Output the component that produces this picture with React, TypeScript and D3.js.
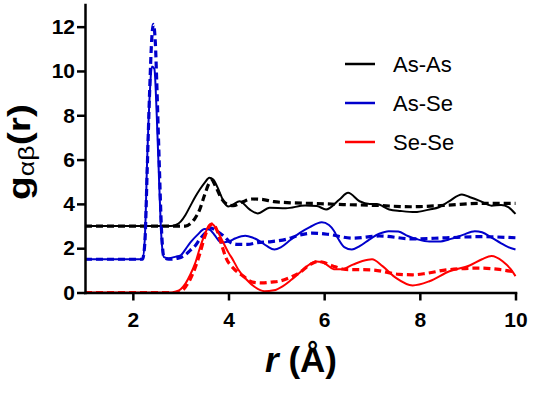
import * as d3 from "d3"
import { useEffect, useRef } from "react"

type Pt = [number, number]

// partial pair distribution functions, [r (Å), g(r)]
// As-As and As-Se are offset by +3 and +1.5
const asAsSolid: Pt[] = [
  [1.0, 3.0], [2.0, 3.0], [2.8, 3.0], [2.9, 3.05], [3.0, 3.2], [3.1, 3.5], [3.2, 3.9], [3.3, 4.3],
  [3.4, 4.65], [3.5, 4.95], [3.6, 5.18], [3.68, 5.1], [3.8, 4.6], [3.9, 4.1], [4.0, 3.88], [4.1, 3.98],
  [4.23, 4.12], [4.44, 3.75], [4.61, 3.57], [4.86, 3.82], [5.2, 3.8], [5.6, 3.93], [5.85, 3.9], [6.04, 3.75],
  [6.32, 4.2], [6.5, 4.5], [6.74, 4.12], [6.95, 4.0], [7.1, 4.0], [7.36, 3.75], [7.6, 3.68], [7.9, 3.63],
  [8.2, 3.75], [8.4, 3.85], [8.6, 4.1], [8.88, 4.42], [9.05, 4.3], [9.24, 4.15], [9.5, 3.92], [9.7, 3.95],
  [9.85, 3.85], [10.0, 3.55],
]
const asAsDash: Pt[] = [
  [1.0, 3.0], [3.1, 3.0], [3.2, 3.1], [3.3, 3.35], [3.4, 3.75], [3.5, 4.4], [3.6, 4.95], [3.65, 5.05],
  [3.75, 4.7], [3.85, 4.25], [4.0, 3.95], [4.1, 3.92], [4.3, 4.1], [4.5, 4.22], [4.7, 4.2], [4.95, 4.1],
  [5.3, 4.05], [5.8, 4.02], [6.4, 3.97], [7.1, 3.93], [7.8, 3.87], [8.5, 3.93], [9.2, 4.02], [10.0, 4.02],
]
const asSeSolid: Pt[] = [
  [1.0, 1.5], [2.2, 1.5], [2.25, 2.4], [2.3, 6.0], [2.35, 8.8], [2.4, 10.2], [2.45, 10.1], [2.5, 8.0],
  [2.55, 5.0], [2.6, 2.4], [2.65, 1.6], [2.75, 1.55], [2.9, 1.62], [3.0, 1.68], [3.1, 1.95], [3.2, 2.25],
  [3.35, 2.6], [3.5, 2.87], [3.6, 2.84], [3.7, 2.62], [3.85, 2.25], [4.0, 2.3], [4.15, 2.45], [4.35, 2.56],
  [4.5, 2.48], [4.65, 2.32], [4.8, 2.1], [4.96, 1.94], [5.1, 2.05], [5.3, 2.38], [5.5, 2.7], [5.7, 2.95],
  [5.95, 3.17], [6.1, 3.05], [6.2, 2.8], [6.3, 2.4], [6.42, 2.05], [6.58, 1.94], [6.75, 2.1], [6.95, 2.4],
  [7.15, 2.65], [7.35, 2.77], [7.55, 2.75], [7.75, 2.55], [7.95, 2.4], [8.2, 2.3], [8.4, 2.3], [8.65, 2.42],
  [8.9, 2.6], [9.15, 2.77], [9.3, 2.72], [9.5, 2.48], [9.7, 2.22], [9.85, 2.05], [10.0, 1.94],
]
const asSeDash: Pt[] = [
  [1.0, 1.5], [2.2, 1.5], [2.25, 2.2], [2.3, 5.5], [2.35, 9.0], [2.4, 11.6], [2.43, 12.1], [2.47, 11.3],
  [2.5, 9.5], [2.55, 6.0], [2.6, 2.8], [2.65, 1.6], [2.75, 1.5], [2.95, 1.55], [3.1, 1.7], [3.2, 1.9],
  [3.3, 2.1], [3.4, 2.4], [3.5, 2.65], [3.62, 2.92], [3.75, 2.78], [3.9, 2.55], [4.05, 2.25], [4.2, 2.17],
  [4.4, 2.17], [4.6, 2.25], [4.9, 2.3], [5.2, 2.4], [5.5, 2.6], [5.75, 2.68], [6.1, 2.62], [6.6, 2.45],
  [7.15, 2.55], [7.85, 2.42], [8.55, 2.47], [9.24, 2.52], [10.0, 2.47],
]
const seSeSolid: Pt[] = [
  [1.0, 0], [2.8, 0], [2.9, 0.05], [3.0, 0.15], [3.1, 0.4], [3.2, 0.8], [3.3, 1.3], [3.4, 2.0],
  [3.5, 2.6], [3.6, 3.05], [3.65, 3.1], [3.75, 2.85], [3.88, 2.3], [4.0, 1.8], [4.1, 1.45], [4.2, 1.05],
  [4.37, 0.6], [4.55, 0.25], [4.75, 0.06], [4.95, 0.1], [5.13, 0.28], [5.3, 0.55], [5.48, 0.88], [5.65, 1.2],
  [5.83, 1.4], [5.95, 1.38], [6.05, 1.26], [6.2, 1.05], [6.35, 1.05], [6.6, 1.26], [6.8, 1.42], [7.0, 1.5],
  [7.22, 1.19], [7.5, 0.66], [7.85, 0.32], [8.2, 0.51], [8.62, 0.96], [9.04, 1.22], [9.3, 1.5], [9.5, 1.65],
  [9.73, 1.41], [9.9, 1.05], [10.0, 0.74],
]
const seSeDash: Pt[] = [
  [1.0, 0], [2.9, 0], [3.0, 0.05], [3.1, 0.25], [3.2, 0.6], [3.3, 1.1], [3.4, 1.75], [3.5, 2.5],
  [3.6, 3.0], [3.67, 3.1], [3.75, 2.85], [3.85, 2.2], [3.95, 1.55], [4.1, 1.1], [4.3, 0.75], [4.5, 0.47],
  [4.7, 0.43], [4.9, 0.47], [5.06, 0.51], [5.25, 0.65], [5.48, 0.89], [5.7, 1.25], [5.87, 1.4], [6.0, 1.35],
  [6.18, 1.2], [6.45, 1.04], [7.0, 1.02], [7.57, 0.82], [7.85, 0.8], [8.13, 0.86], [8.55, 1.02], [9.24, 1.1],
  [9.66, 1.04], [10.0, 0.92],
]

const pairLabels = ["As-As", "As-Se", "Se-Se"]
const pairColors = ["#000000", "#0000cc", "#ff0000"]
const xTicks = [2, 4, 6, 8, 10]
const yTicks = [0, 2, 4, 6, 8, 10, 12]

const font = "'Liberation Sans', Arial, sans-serif"

function App() {
  const ref = useRef<SVGSVGElement>(null)

  useEffect(() => {
    const svg = d3.select(ref.current)
    svg.selectAll("*").remove()

    const x = d3.scaleLinear().domain([1, 10]).range([85, 515.5])
    const y = d3.scaleLinear().domain([0, 13]).range([292.5, 4.5])

    const line = d3.line<Pt>()
      .x(d => x(d[0]))
      .y(d => y(d[1]))
      .curve(d3.curveMonotoneX)

    const series = [
      { data: asAsSolid, color: pairColors[0], dashed: false },
      { data: asAsDash, color: pairColors[0], dashed: true },
      { data: asSeSolid, color: pairColors[1], dashed: false },
      { data: asSeDash, color: pairColors[1], dashed: true },
      { data: seSeSolid, color: pairColors[2], dashed: false },
      { data: seSeDash, color: pairColors[2], dashed: true },
    ]

    svg.append("g")
      .selectAll("path")
      .data(series)
      .enter()
      .append("path")
        .attr("d", d => line(d.data))
        .attr("fill", "none")
        .attr("stroke", d => d.color)
        .attr("stroke-width", d => d.dashed ? 3.2 : 2)
        .attr("stroke-dasharray", d => d.dashed ? "7,4" : null)
        .attr("stroke-linejoin", "round")

    // axes
    const xAxis = d3.axisBottom(x)
      .tickValues(xTicks)
      .tickSize(8)
      .tickSizeOuter(0)
      .tickPadding(12)
      .tickFormat(d3.format("d"))
    const yAxis = d3.axisLeft(y)
      .tickValues(yTicks)
      .tickSize(8)
      .tickSizeOuter(0)
      .tickPadding(2)
      .tickFormat(d3.format("d"))

    const gx = svg.append("g").attr("transform", `translate(0,${y(0)})`).call(xAxis)
    const gy = svg.append("g").attr("transform", `translate(${x(1)},0)`).call(yAxis)

    for (const g of [gx, gy]) {
      g.attr("font-family", font).attr("font-size", 21).attr("font-weight", "bold")
      g.select(".domain").attr("stroke-width", 2.5).attr("stroke-linecap", "square")
      g.selectAll(".tick line").attr("stroke-width", 2.5)
    }

    // axis titles
    const xt = svg.append("text")
      .attr("x", 301)
      .attr("y", 372)
      .attr("text-anchor", "middle")
      .attr("font-family", font)
      .attr("font-weight", "bold")
      .attr("font-size", 35)
    xt.append("tspan").attr("font-style", "italic").text("r")
    xt.append("tspan").text(" (Å)")

    // y title is stretched a little along its length
    const yt = svg.append("text")
      .attr("transform", "translate(30,200) rotate(-90) scale(1.22,1)")
      .attr("font-family", font)
      .attr("font-weight", "bold")
      .attr("font-size", 32)
    yt.append("tspan").text("g")
    yt.append("tspan").attr("font-size", 22).attr("font-weight", "normal").attr("dy", 4).text("αβ")
    yt.append("tspan").attr("dy", -4).text("(r)")

    // legend
    const legend = svg.append("g")
    pairLabels.forEach((label, i) => {
      const ly = 64 + i * 39
      legend.append("line")
        .attr("x1", 345).attr("x2", 375)
        .attr("y1", ly).attr("y2", ly)
        .attr("stroke", pairColors[i])
        .attr("stroke-width", 2.5)
      legend.append("text")
        .attr("x", 393)
        .attr("y", ly + 8)
        .attr("font-family", font)
        .attr("font-size", 22)
        .text(label)
    })
  }, [])

  return (
    <svg
      ref={ref}
      width={539}
      height={394}
      style={{ position: "absolute", left: 0, top: 0, background: "#fff" }}
    />
  )
}

export default App
